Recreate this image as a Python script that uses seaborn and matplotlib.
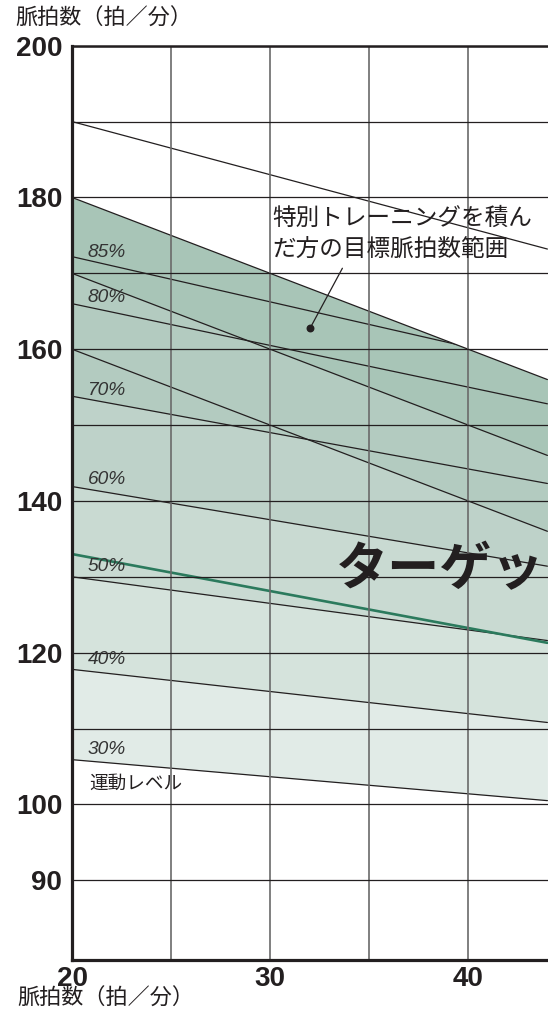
import matplotlib
matplotlib.use('Agg')
import matplotlib.pyplot as plt
import seaborn as sns

# x: 年齢（両端）
ages = [20, 44]

# 最大脈拍数ライン
max_hr = [190, 173.2]

# 傾き -1 のライン（上から 180, 170, 160 スタート）
slope_start = [180, 170, 160]
slope_end = [156, 146, 136]

# パーセントライン
pct_labels = ['85%', '80%', '70%', '60%', '50%', '40%', '30%']
pct_start = [172.2, 166.0, 153.8, 141.9, 130.0, 117.8, 105.9]
pct_end = [157.9, 152.8, 142.3, 131.4, 121.6, 110.8, 100.5]
pct_label_y = [172.8, 166.8, 154.6, 142.8, 131.3, 119.1, 107.2]

# 緑のライン
green_hr = [133.0, 121.3]

# 目盛り
xticks = [20, 25, 30, 35, 40]
xtick_labels = ['20', '', '30', '', '40']
yticks = [90, 100, 110, 120, 130, 140, 150, 160, 170, 180, 190, 200]
ytick_labels = ['90', '100', '', '120', '', '140', '', '160', '', '180', '', '200']

INK = '#231f20'

sns.set_theme(style='white')
plt.rcParams['font.family'] = ['Noto Sans CJK JP', 'DejaVu Sans']

fig = plt.figure(figsize=(5.48, 10.09), dpi=100)
ax = fig.add_axes([0.1314, 0.0486, 0.8686, 0.9061])

# 帯の塗り（下の薄い帯から順に重ねる）
top = [slope_start[0], slope_end[0]]
layers = [
    ((pct_start[6], pct_end[6]), '#e1ebe7'),
    ((pct_start[5], pct_end[5]), '#d5e3dc'),
    ((pct_start[4], pct_end[4]), '#c9dad2'),
    ((pct_start[3], pct_end[3]), '#bed2c9'),
    ((pct_start[2], pct_end[2]), '#b3cbc0'),
    ((slope_start[2], slope_end[2]), '#b3cbc0'),
    ((slope_start[1], slope_end[1]), '#a8c5b7'),
]
clip_poly = None
for bottom, col in layers:
    poly = ax.fill_between(ages, top, list(bottom), color=col, lw=0, zorder=1)
    if clip_poly is None:
        clip_poly = poly

# 線
sns.lineplot(x=ages, y=max_hr, color=INK, lw=0.9, ax=ax, legend=False)
for s, e in zip(slope_start, slope_end):
    sns.lineplot(x=ages, y=[s, e], color=INK, lw=0.9, ax=ax, legend=False)
for i, (s, e) in enumerate(zip(pct_start, pct_end)):
    sns.lineplot(x=ages, y=[s, e], color=INK, lw=0.9, ax=ax, legend=False)
    if i == 0:
        ln = ax.lines[-1]
        ln.set_clip_path(clip_poly.get_paths()[0], clip_poly.get_transform())
sns.lineplot(x=ages, y=green_hr, color='#2b7a5d', lw=1.9, ax=ax, legend=False)

# ラベル
for lab, y in zip(pct_labels, pct_label_y):
    ax.text(20.78, y, lab, ha='left', va='center', fontsize=13.8, style='italic',
            family='Liberation Sans', color='#333333', zorder=5)
ax.text(20.85, 102.7, '運動レベル', ha='left', va='center', fontsize=13.4,
        color=INK, zorder=5)

ax.text(30.1, 177.2, '特別トレーニングを積ん', ha='left', va='center',
        fontsize=17, color=INK, zorder=5)
ax.text(30.1, 173.1, 'だ方の目標脈拍数範囲', ha='left', va='center',
        fontsize=17, color=INK, zorder=5)
ax.plot([33.65, 32.02], [170.67, 162.77], color=INK, lw=0.9, zorder=5)
ax.scatter([32.02], [162.77], s=22, color=INK, zorder=6)

ax.text(38.6, 130.9, 'ターゲッ', ha='center', va='center', fontsize=37.5,
        fontweight='bold', color=INK, zorder=5)

# 軸
ax.set_xlim(20, 44.03)
ax.set_ylim(79.5, 200)
ax.set_xticks(xticks)
ax.set_xticklabels(xtick_labels, fontweight='bold', family='Liberation Sans',
                   fontsize=20, color=INK)
ax.set_yticks(yticks)
ax.set_yticklabels(ytick_labels, fontweight='bold', family='Liberation Sans',
                   fontsize=20, color=INK)
ax.tick_params(axis='both', length=0)
ax.tick_params(axis='y', pad=7)
ax.tick_params(axis='x', pad=4)

ax.set_axisbelow(False)
ax.grid(axis='y', color=INK, lw=0.9)
ax.grid(axis='x', color='#6a6a6a', lw=1.2)

ax.spines['right'].set_visible(False)
for side, w in [('left', 2.3), ('bottom', 2.3), ('top', 1.8)]:
    ax.spines[side].set_linewidth(w)
    ax.spines[side].set_color(INK)
    ax.spines[side].set_zorder(7)

fig.text(15 / 548, 1 - 19 / 1009, '脈拍数（拍／分）', ha='left', va='center',
         fontsize=15.9, color=INK)
fig.text(17 / 548, 1 - 999 / 1009, '脈拍数（拍／分）', ha='left', va='center',
         fontsize=15.9, color=INK)

fig.savefig('out.png', dpi=100)
